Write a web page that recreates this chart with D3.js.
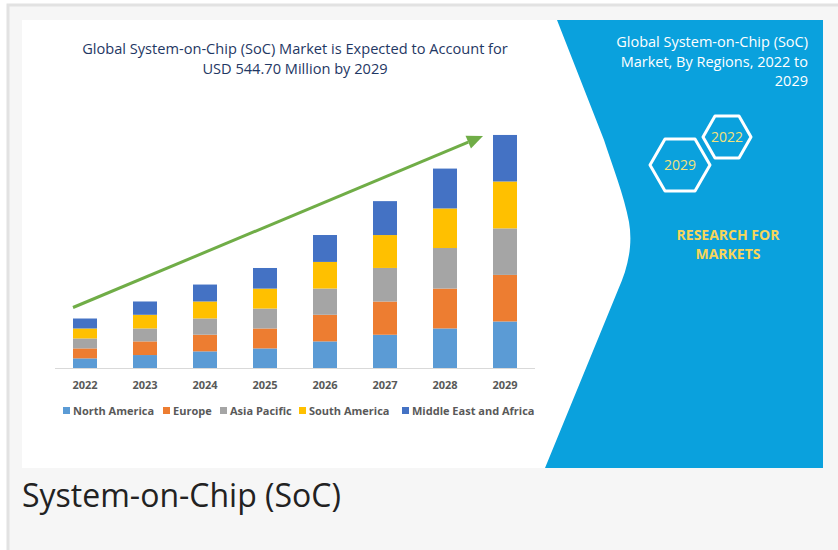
<!DOCTYPE html>
<html>
<head>
<meta charset="utf-8">
<script src="https://cdn.jsdelivr.net/npm/d3@7"></script>
<style>
  html, body { margin: 0; padding: 0; background: #ffffff; }
  svg { display: block; }
</style>
</head>
<body>
<script>
// years on the x axis
var years = ["2022", "2023", "2024", "2025", "2026", "2027", "2028", "2029"];
var regions = ["North America", "Europe", "Asia Pacific", "South America", "Middle East and Africa"];

// values (USD million)
var northAmerica = [22.5, 30.3, 38.9, 45.8, 62.2, 77.7, 92.5, 108.8];
var europe       = [23.3, 31.9, 38.9, 46.6, 62.2, 77.7, 93.2, 108.8];
var asiaPacific  = [23.3, 30.3, 38.1, 46.6, 61.4, 78.5, 94.8, 108.8];
var southAmerica = [23.3, 31.9, 39.6, 46.6, 62.2, 76.9, 92.5, 109.6];
var mea          = [23.3, 31.1, 39.6, 48.2, 62.9, 79.3, 93.2, 108.8];

var colors = ["#5b9bd5", "#ed7d31", "#a5a5a5", "#ffc000", "#4472c4"];
var legendX = [63, 163, 220, 299, 402];

var W = 838, H = 550;

var svg = d3.select("body").append("svg")
    .attr("width", W)
    .attr("height", H);

// outer grey card
svg.append("rect")
    .attr("x", 8).attr("y", 5)
    .attr("width", 840).attr("height", 560)
    .attr("fill", "#f6f6f6")
    .attr("stroke", "#e2e2e2")
    .attr("stroke-width", 3);

// white picture area
svg.append("rect")
    .attr("x", 22).attr("y", 20)
    .attr("width", 801).attr("height", 448)
    .attr("fill", "#ffffff");

// blue panel on the right with curved edge
svg.append("path")
    .attr("d", "M557,20 L823,20 L823,468 L545,468 L618,290 " +
               "C628,268 633,245 629,222 C624,195 612,165 604,140 Z")
    .attr("fill", "#0aa1dd");

// table for the stack
var table = years.map(function(y, i) {
    return {
        year: y,
        "North America": northAmerica[i],
        "Europe": europe[i],
        "Asia Pacific": asiaPacific[i],
        "South America": southAmerica[i],
        "Middle East and Africa": mea[i]
    };
});

var stacked = d3.stack().keys(regions)(table);
var totals = table.map(function(d) { return d3.sum(regions, function(k) { return d[k]; }); });

var x = d3.scaleBand()
    .domain(years)
    .range([55, 535])
    .paddingInner(0.6)
    .paddingOuter(0.3);

var y = d3.scaleLinear()
    .domain([0, 544.7])
    .range([368, 135]);

// baseline
svg.append("line")
    .attr("x1", 55).attr("x2", 535)
    .attr("y1", y(0) + 0.5).attr("y2", y(0) + 0.5)
    .attr("stroke", "#d9d9d9")
    .attr("stroke-width", 1);

svg.append("g")
    .selectAll("g")
    .data(stacked)
    .enter().append("g")
    .attr("fill", function(d, i) { return colors[i]; })
    .selectAll("rect")
    .data(function(d) { return d; })
    .enter().append("rect")
    .attr("x", function(d) { return x(d.data.year); })
    .attr("y", function(d) { return y(d[1]); })
    .attr("width", x.bandwidth())
    .attr("height", function(d) { return y(d[0]) - y(d[1]); });

// x axis labels
var xAxis = d3.axisBottom(x).tickSize(0).tickPadding(0);
var gx = svg.append("g")
    .attr("transform", "translate(0," + 381 + ")")
    .call(xAxis);
gx.select(".domain").remove();
gx.selectAll("text")
    .attr("font-family", "Open Sans")
    .attr("font-size", 11)
    .attr("font-weight", "bold")
    .attr("fill", "#595959");

// green trend arrow
var ax1 = x(years[0]), ay1 = y(totals[0]) - 11;
var ax2 = x(years[7]) - 10, ay2 = y(totals[7]) + 1;
var ang = Math.atan2(ay2 - ay1, ax2 - ax1);
var headL = 16, headW = 7;
var bx = ax2 - headL * Math.cos(ang), by = ay2 - headL * Math.sin(ang);
svg.append("line")
    .attr("x1", ax1).attr("y1", ay1)
    .attr("x2", bx).attr("y2", by)
    .attr("stroke", "#70ad47")
    .attr("stroke-width", 3);
svg.append("polygon")
    .attr("points", [
        [ax2, ay2],
        [bx + headW * Math.sin(ang), by - headW * Math.cos(ang)],
        [bx - headW * Math.sin(ang), by + headW * Math.cos(ang)]
    ].map(function(p) { return p.join(","); }).join(" "))
    .attr("fill", "#70ad47");

// legend
var legend = svg.append("g").selectAll("g")
    .data(regions)
    .enter().append("g")
    .attr("transform", function(d, i) { return "translate(" + legendX[i] + ",411)"; });
legend.append("rect")
    .attr("x", 0).attr("y", -4)
    .attr("width", 7).attr("height", 7)
    .attr("fill", function(d, i) { return colors[i]; });
legend.append("text")
    .attr("x", 10).attr("y", 4)
    .attr("font-family", "Open Sans")
    .attr("font-size", 11)
    .attr("font-weight", "bold")
    .attr("fill", "#595959")
    .text(function(d) { return d; });

// chart title
var title = svg.append("text")
    .attr("text-anchor", "middle")
    .attr("font-family", "Open Sans")
    .attr("font-size", 14.6)
    .attr("fill", "#1f3864");
title.append("tspan").attr("x", 295).attr("y", 54)
    .text("Global System-on-Chip (SoC) Market is Expected to Account for");
title.append("tspan").attr("x", 295).attr("y", 74)
    .text("USD 544.70 Million by 2029");

// right panel title
var rt = svg.append("text")
    .attr("text-anchor", "end")
    .attr("font-family", "Open Sans")
    .attr("font-size", 14.5)
    .attr("fill", "#ffffff");
["Global System-on-Chip (SoC)", "Market, By Regions, 2022 to", "2029"].forEach(function(s, i) {
    rt.append("tspan").attr("x", 808).attr("y", 47 + i * 19.5).text(s);
});

// hexagons
function hexPoints(cx, cy, rx, ry) {
    return [
        [cx - rx, cy], [cx - rx / 2, cy - ry], [cx + rx / 2, cy - ry],
        [cx + rx, cy], [cx + rx / 2, cy + ry], [cx - rx / 2, cy + ry]
    ];
}
var hexes = [
    {label: "2022", cx: 727, cy: 137, rx: 24, ry: 21},
    {label: "2029", cx: 680, cy: 165, rx: 30, ry: 26}
];
var hex = svg.append("g").selectAll("g").data(hexes).enter().append("g");
hex.append("path")
    .attr("d", function(d) { return d3.line().curve(d3.curveLinearClosed)(hexPoints(d.cx, d.cy, d.rx, d.ry)); })
    .attr("fill", "none")
    .attr("stroke", "#ffffff")
    .attr("stroke-width", 3)
    .attr("stroke-linejoin", "round");
hex.append("text")
    .attr("x", function(d) { return d.cx; })
    .attr("y", function(d) { return d.cy + 5; })
    .attr("text-anchor", "middle")
    .attr("font-family", "Open Sans")
    .attr("font-size", 14)
    .attr("fill", "#f3e27a")
    .text(function(d) { return d.label; });

// brand text
var brand = svg.append("text")
    .attr("text-anchor", "middle")
    .attr("font-family", "Open Sans")
    .attr("font-size", 14)
    .attr("font-weight", "bold")
    .attr("fill", "#f7d55a");
brand.append("tspan").attr("x", 728).attr("y", 240).text("RESEARCH FOR");
brand.append("tspan").attr("x", 728).attr("y", 259).text("MARKETS");

// caption under the picture
svg.append("text")
    .attr("x", 22).attr("y", 507)
    .attr("font-family", "Open Sans")
    .attr("font-size", 32)
    .attr("fill", "#222222")
    .text("System-on-Chip (SoC)");
</script>
</body>
</html>
